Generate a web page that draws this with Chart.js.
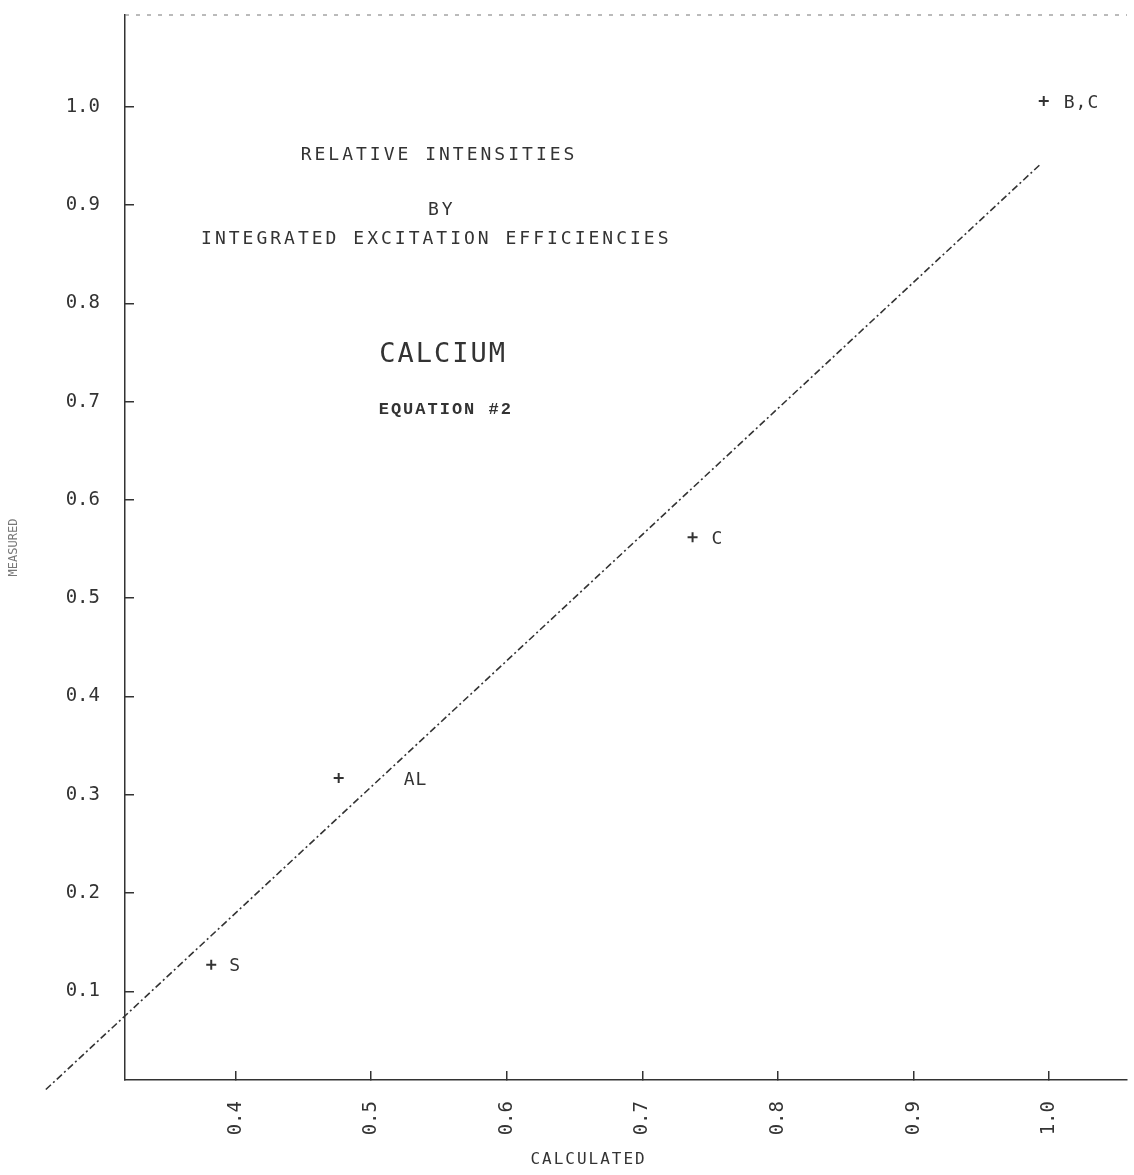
<!DOCTYPE html>
<html>
<head>
<meta charset="utf-8">
<script src="https://cdn.jsdelivr.net/npm/chart.js@4.4.1/dist/chart.umd.min.js"></script>
<style>
  html, body { margin: 0; padding: 0; background: #ffffff; }
  #wrap { width: 1134px; height: 1175px; position: relative; }
</style>
</head>
<body>
<div id="wrap"><canvas id="c" width="1134" height="1175"></canvas></div>
<script>
// ---- data ----
const xTicks = [0.4, 0.5, 0.6, 0.7, 0.8, 0.9, 1.0];
const xTickLabels = ['0.4', '0.5', '0.6', '0.7', '0.8', '0.9', '1.0'];
const yTicks = [0.1, 0.2, 0.3, 0.4, 0.5, 0.6, 0.7, 0.8, 0.9, 1.0];
const yTickLabels = ['0.1', '0.2', '0.3', '0.4', '0.5', '0.6', '0.7', '0.8', '0.9', '1.0'];

const elements   = ['S', 'AL', 'C', 'B,C'];
const calculated = [0.382, 0.476, 0.737, 0.996];
const measured   = [0.127, 0.317, 0.562, 1.006];

const fitCalculated = [0.26, 0.993];
const fitMeasured   = [0.0, 0.941];

const annotationLines = ['RELATIVE INTENSITIES', 'BY', 'INTEGRATED EXCITATION EFFICIENCIES', 'CALCIUM', 'EQUATION #2'];
const xTitle = 'CALCULATED';
const yTitle = 'MEASURED';

// ---- drawing ----
const INK = '#333333';
const MONO = '"DejaVu Sans Mono", "Liberation Mono", monospace';

const pointsData = calculated.map((v, i) => ({ x: v, y: measured[i] }));
const fitData = fitCalculated.map((v, i) => ({ x: v, y: fitMeasured[i] }));

function noPad(s) {
  s.paddingTop = 0; s.paddingBottom = 0; s.paddingLeft = 0; s.paddingRight = 0;
}

const textPlugin = {
  id: 'plotTexts',
  afterDraw(chart) {
    const { ctx, chartArea, scales: { x, y } } = chart;
    ctx.save();
    // faint top frame line
    ctx.strokeStyle = '#777777';
    ctx.lineWidth = 1;
    ctx.setLineDash([4, 7]);
    ctx.beginPath();
    ctx.moveTo(chartArea.left, chartArea.top);
    ctx.lineTo(chartArea.right, chartArea.top);
    ctx.stroke();
    ctx.setLineDash([]);

    ctx.fillStyle = INK;
    ctx.textAlign = 'center';
    ctx.textBaseline = 'middle';
    const spots = [
      { at: [0.55, 0.951], font: '18px ' + MONO, sp: '3px' },
      { at: [0.552, 0.895], font: '18px ' + MONO, sp: '3px' },
      { at: [0.548, 0.865], font: '18px ' + MONO, sp: '3px' },
      { at: [0.553, 0.748], font: '27px ' + MONO, sp: '2px' },
      { at: [0.555, 0.692], font: 'bold 17px "Liberation Mono", monospace', sp: '2px' }
    ];
    annotationLines.forEach((t, i) => {
      const s = spots[i];
      ctx.font = s.font;
      ctx.letterSpacing = s.sp;
      ctx.fillText(t, x.getPixelForValue(s.at[0]), y.getPixelForValue(s.at[1]));
    });

    // point labels
    const offs = [18, 65, 19, 20];
    ctx.font = '18px ' + MONO;
    ctx.letterSpacing = '1px';
    ctx.textAlign = 'left';
    const meta = chart.getDatasetMeta(1);
    meta.data.forEach((pt, i) => {
      ctx.fillText(elements[i], pt.x + offs[i], pt.y + 2);
    });

    // x axis title
    ctx.textAlign = 'center';
    ctx.font = '16px ' + MONO;
    ctx.letterSpacing = '2px';
    ctx.fillText(xTitle, x.getPixelForValue(0.6603), chart.height - 15);
    ctx.restore();
  }
};

new Chart(document.getElementById('c'), {
  type: 'scatter',
  data: {
    datasets: [
      {
        type: 'line',
        label: 'fit',
        data: fitData,
        borderColor: INK,
        borderWidth: 1.6,
        borderDash: [7, 3, 2, 3],
        pointRadius: 0,
        fill: false,
        clip: false,
        order: 2
      },
      {
        label: 'elements',
        data: pointsData,
        pointStyle: 'cross',
        pointRadius: 5,
        borderWidth: 2,
        borderColor: INK,
        backgroundColor: INK,
        clip: false,
        order: 1
      }
    ]
  },
  options: {
    responsive: false,
    animation: false,
    devicePixelRatio: 1,
    layout: { padding: { top: 15, right: 4, left: 0, bottom: 0 } },
    plugins: {
      legend: { display: false },
      tooltip: { enabled: false }
    },
    scales: {
      x: {
        type: 'linear',
        min: 0.3184,
        max: 1.0574,
        afterBuildTicks: s => { s.ticks = xTicks.map(v => ({ value: v })); },
        afterFit: s => { s.height = 95; noPad(s); },
        ticks: {
          callback: (v, i) => xTickLabels[i],
          autoSkip: false,
          minRotation: 90,
          maxRotation: 90,
          padding: 30,
          color: INK,
          font: { family: MONO, size: 19 }
        },
        grid: { drawOnChartArea: false, drawTicks: true, tickLength: -9, color: INK, lineWidth: 1.5 },
        border: { display: true, color: INK, width: 1.5, dash: [12, 3] }
      },
      y: {
        type: 'linear',
        min: 0.0097,
        max: 1.0936,
        afterBuildTicks: s => { s.ticks = yTicks.map(v => ({ value: v })); },
        afterFit: s => { s.width = 125; noPad(s); },
        ticks: {
          callback: (v, i) => yTickLabels[i],
          autoSkip: false,
          padding: 34,
          color: INK,
          font: { family: MONO, size: 19 }
        },
        title: {
          display: true,
          text: yTitle,
          color: '#777777',
          font: { family: MONO, size: 12 },
          padding: { top: 7, bottom: 0 }
        },
        grid: { drawOnChartArea: false, drawTicks: true, tickLength: -9, color: INK, lineWidth: 1.5 },
        border: { display: true, color: INK, width: 1.5, dash: [2, 4] }
      }
    }
  },
  plugins: [textPlugin]
});
</script>
</body>
</html>
